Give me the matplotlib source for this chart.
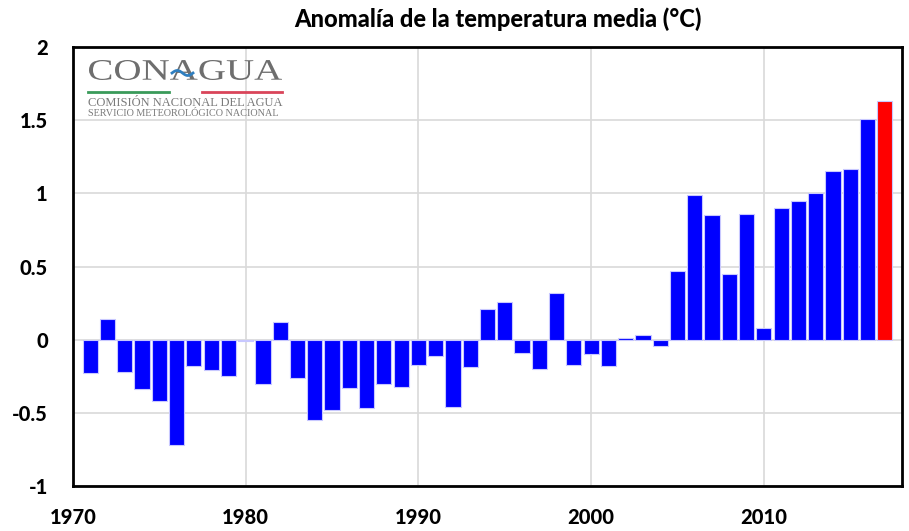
import numpy as np
import matplotlib.pyplot as plt
from matplotlib.textpath import TextPath
from matplotlib.patches import PathPatch
from matplotlib.font_manager import FontProperties
from matplotlib.transforms import Affine2D, IdentityTransform

years = np.arange(1971, 2018)
anomaly = [
    -0.23, 0.14, -0.22, -0.34, -0.42, -0.72, -0.18, -0.21, -0.25, -0.01,
    -0.30, 0.12, -0.26, -0.55, -0.48, -0.33, -0.47, -0.30, -0.32, -0.17,
    -0.11, -0.46, -0.19, 0.21, 0.26, -0.09, -0.20, 0.32, -0.17, -0.10,
    -0.18, 0.01, 0.03, -0.04, 0.47, 0.99, 0.85, 0.45, 0.86, 0.08,
    0.90, 0.95, 1.00, 1.155, 1.165, 1.51, 1.63,
]
yticks = [-1, -0.5, 0, 0.5, 1, 1.5, 2]
ytick_labels = ['-1', '-0.5', '0', '0.5', '1', '1.5', '2']
xticks = [1970, 1980, 1990, 2000, 2010]

plt.rcParams['font.family'] = ['Lato', 'DejaVu Sans']

fig = plt.figure(figsize=(9.09, 5.31), dpi=100)
ax = fig.add_axes([0.0803, 0.0847, 0.912, 0.8268])

colors = ['blue'] * (len(years) - 1) + ['red']
ax.bar(years, anomaly, width=0.88, color=colors, edgecolor='#c8c8ff', linewidth=0.8, zorder=3)

ax.set_xlim(1970, 2018)
ax.set_ylim(-1, 2)
ax.set_yticks(yticks)
ax.set_yticklabels(ytick_labels, fontsize=14.5, fontweight='black')
ax.set_xticks(xticks)
ax.set_xticklabels([str(x) for x in xticks], fontsize=14.5, fontweight='black')
ax.tick_params(axis='y', length=0, pad=18)
ax.tick_params(axis='x', length=0, pad=16)
ax.grid(True, color='#d9d9d9', linewidth=1.2, zorder=0)
for s in ax.spines.values():
    s.set_linewidth(2)
    s.set_color('black')

fig.text(0.548, 0.963, 'Anomalía de la temperatura media (°C)', ha='center', va='center',
         fontsize=17, fontweight='black')

# logo: CONAGUA drawn as a stretched text path (pixel coords, origin bottom-left)
H = 531
tp = TextPath((0, 0), 'CONAGUA', size=1, prop=FontProperties(family='Liberation Serif'))
ext = tp.get_extents()
sx = 193 / ext.width
sy = 20 / ext.height
tr = Affine2D().translate(-ext.x0, -ext.y0).scale(sx, sy).translate(89, H - 80)
fig.add_artist(PathPatch(tp, transform=tr + IdentityTransform(), facecolor='#6e6e6e',
                         edgecolor='none'))
# small blue wave on the A
wx = np.linspace(172, 193, 30)
wy = H - 73 + 2.5 * np.sin((wx - 172) / 21 * 2 * np.pi)
fig.add_artist(plt.Line2D(wx / 909, wy / H, color='#2f7fc0', linewidth=2))

fig.add_artist(plt.Line2D([88 / 909, 169 / 909], [1 - 92 / H] * 2, color='#3a9a5a', linewidth=2))
fig.add_artist(plt.Line2D([202 / 909, 282 / 909], [1 - 92 / H] * 2, color='#d9455a', linewidth=2))
fig.text(88 / 909, 1 - 103 / H, 'COMISIÓN NACIONAL DEL AGUA', fontsize=9, family='Liberation Serif',
         color='#7a7a7a', ha='left', va='center')
fig.text(88 / 909, 1 - 113 / H, 'SERVICIO METEOROLÓGICO NACIONAL', fontsize=7.3, family='Liberation Serif',
         color='#7a7a7a', ha='left', va='center')

fig.savefig('out.png', dpi=100)
